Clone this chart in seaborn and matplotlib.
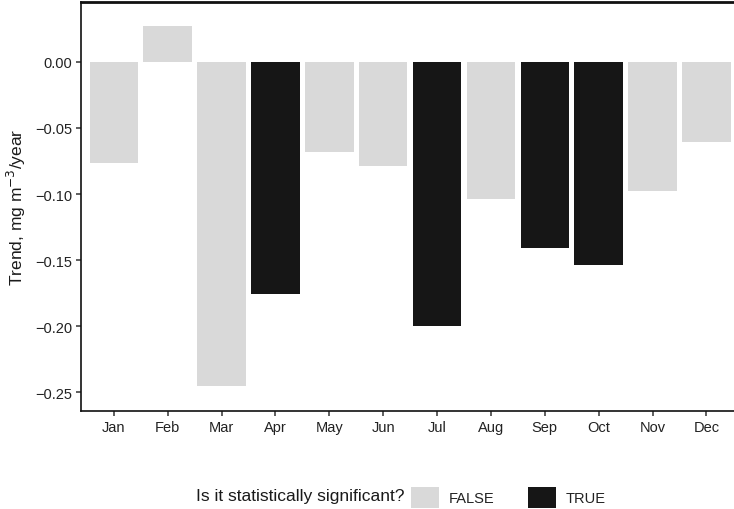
import matplotlib
matplotlib.use("Agg")
import matplotlib.pyplot as plt
from matplotlib.patches import Patch
import pandas as pd
import seaborn as sns

# Monthly trend values
months = ["Jan", "Feb", "Mar", "Apr", "May", "Jun",
          "Jul", "Aug", "Sep", "Oct", "Nov", "Dec"]
trend = [-0.0765, 0.027, -0.245, -0.1755, -0.068, -0.0787,
         -0.1997, -0.104, -0.1407, -0.1536, -0.0976, -0.0605]
significant = ["FALSE", "FALSE", "FALSE", "TRUE", "FALSE", "FALSE",
               "TRUE", "FALSE", "TRUE", "TRUE", "FALSE", "FALSE"]
y_ticks = [0.00, -0.05, -0.10, -0.15, -0.20, -0.25]

df = pd.DataFrame({"month": months, "trend": trend, "sig": significant})

sns.set_theme(style="white")
plt.rcParams['font.family'] = ['Liberation Sans', 'DejaVu Sans']

palette = {"FALSE": "#d9d9d9", "TRUE": "#161616"}

fig = plt.figure(figsize=(7.34, 5.10), dpi=100)
ax = fig.add_axes([0.111, 0.192, 0.8955, 0.802])

sns.barplot(data=df, x="month", y="trend", hue="sig", palette=palette,
            order=months, hue_order=["FALSE", "TRUE"], dodge=False,
            width=0.9, saturation=1, legend=False, linewidth=0, ax=ax)

ax.set_xlim(-0.6, 11.6)
ax.set_ylim(-0.2642, 0.0452)
ax.set_yticks(y_ticks)
ax.set_yticklabels([f"{v:.2f}".replace("-", "\u2212") for v in y_ticks])
ax.set_xlabel("")
ax.set_ylabel("Trend, mg m$^{-3}$/year", fontsize=12.5, color="#1a1a1a", labelpad=5)

ax.tick_params(axis="both", which="both", length=3.5, width=1.1, color="#333333",
               labelsize=10.5, labelcolor="#222222", pad=3,
               bottom=True, left=True)
for side in ["left", "bottom", "top"]:
    ax.spines[side].set_visible(True)
    ax.spines[side].set_color("#111111")
    ax.spines[side].set_linewidth(1.2)
ax.spines["top"].set_linewidth(2.0)
ax.spines["right"].set_visible(False)

# legend at the bottom
fig.text(405 / 734, 1 - 497 / 510, "Is it statistically significant?",
         ha="right", va="center", fontsize=12.5, color="#1a1a1a")
handles = [Patch(facecolor=palette["FALSE"], edgecolor="none", label="FALSE"),
           Patch(facecolor=palette["TRUE"], edgecolor="none", label="TRUE")]
fig.legend(handles=handles, ncol=2, frameon=False, fontsize=10.5,
           loc="center left", bbox_to_anchor=(411 / 734, 1 - 498.5 / 510),
           borderpad=0, borderaxespad=0, handlelength=1.9, handleheight=1.9,
           handletextpad=0.7, columnspacing=2.3, labelcolor="#222222")

fig.savefig("out.png", dpi=100)
